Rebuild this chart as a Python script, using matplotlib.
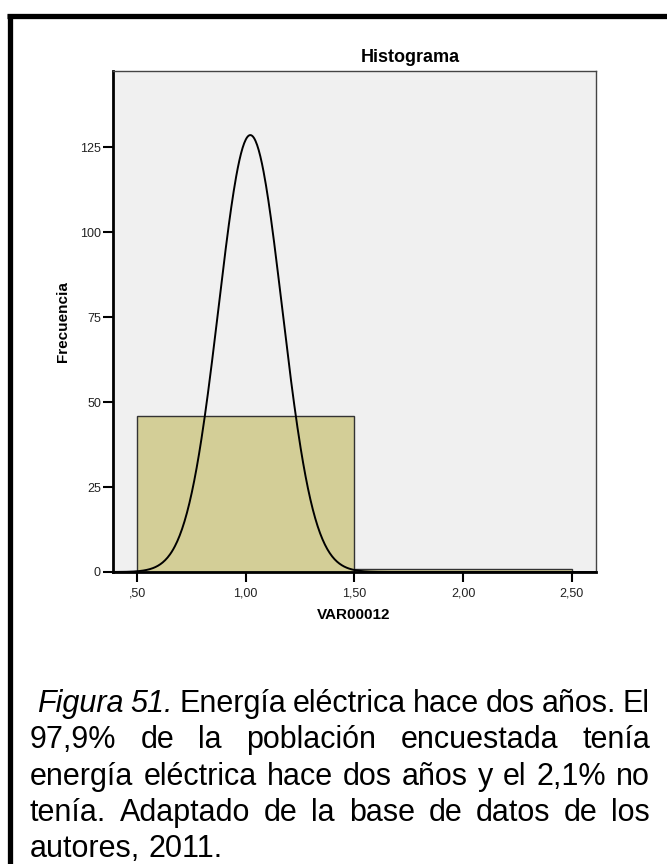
import numpy as np
import matplotlib
matplotlib.use("Agg")
import matplotlib.pyplot as plt
from matplotlib.lines import Line2D

# Histogram data for VAR00012 (1 = tenía energía, 2 = no tenía)
bin_edges = [0.5, 1.5, 2.5]
counts = [46, 1]
bin_values = [1, 2]

x_ticks = [0.5, 1.0, 1.5, 2.0, 2.5]
x_labels = [",50", "1,00", "1,50", "2,00", "2,50"]
y_ticks = [0, 25, 50, 75, 100, 125]
y_labels = ["0", "25", "50", "75", "100", "125"]

caption_lines = [
    [("Figura", "italic"), ("51.", "italic"), ("Energía", "normal"), ("eléctrica", "normal"),
     ("hace", "normal"), ("dos", "normal"), ("años.", "normal"), ("El", "normal")],
    [(w, "normal") for w in "97,9% de la población encuestada tenía".split()],
    [(w, "normal") for w in "energía eléctrica hace dos años y el 2,1% no".split()],
    [(w, "normal") for w in "tenía. Adaptado de la base de datos de los".split()],
    [(w, "normal") for w in "autores, 2011.".split()],
]

W, H = 667, 864
FONT = "Liberation Sans"
plt.rcParams["font.family"] = [FONT, "DejaVu Sans"]

fig = plt.figure(figsize=(W / 100, H / 100), dpi=100)
fig.patch.set_facecolor("white")

# overlay in pixel coordinates for frame and caption
ov = fig.add_axes([0, 0, 1, 1])
ov.set_xlim(0, W)
ov.set_ylim(H, 0)
ov.axis("off")
ov.add_line(Line2D([7, W], [15.5, 15.5], color="black", lw=3.8, solid_capstyle="butt"))
ov.add_line(Line2D([9.5, 9.5], [13.5, H], color="black", lw=3.8, solid_capstyle="butt"))

# histogram axes
left, right, top, bottom = 112.7, 596, 71, 572
ax = fig.add_axes([left / W, 1 - bottom / H, (right - left) / W, (bottom - top) / H])
ax.set_facecolor("#F0F0F0")

widths = np.diff(bin_edges)
ax.bar(bin_edges[:-1], counts, width=widths, align="edge",
       color="#D3CE97", edgecolor="#333333", linewidth=1.0, zorder=2)

# fitted normal curve
vals = np.repeat(bin_values, counts)
n = len(vals)
mu = vals.mean()
sd = vals.std(ddof=1)
xs = np.linspace(0.388, 2.612, 600)
ys = n * widths[0] * np.exp(-0.5 * ((xs - mu) / sd) ** 2) / (sd * np.sqrt(2 * np.pi))
ax.plot(xs, ys, color="black", lw=1.4, zorder=3)

ax.set_xlim(0.388, 2.612)
ax.set_ylim(0, 147.4)
ax.set_xticks(x_ticks)
ax.set_xticklabels(x_labels)
ax.set_yticks(y_ticks)
ax.set_yticklabels(y_labels)
ax.tick_params(axis="both", direction="out", length=7.5, width=1.5, color="black",
               labelsize=9, labelcolor="#222222")
ax.tick_params(axis="y", pad=1)
ax.tick_params(axis="x", pad=3.5)
for s in ["left", "bottom"]:
    ax.spines[s].set_linewidth(2.0)
    ax.spines[s].set_color("black")
for s in ["top", "right"]:
    ax.spines[s].set_linewidth(1.0)
    ax.spines[s].set_color("#444444")

ov.text(410, 57, "Histograma", ha="center", va="center", fontsize=13, fontweight="bold")
ov.text(354, 615, "VAR00012", ha="center", va="center", fontsize=11, fontweight="bold")
ov.text(63, 321.5, "Frecuencia", ha="center", va="center", rotation=90,
        fontsize=11, fontweight="bold")

# justified caption
renderer = fig.canvas.get_renderer()
cap_size = 22
x0, x1 = 30, 650
baselines = [712, 748, 785, 821, 857]


def word_width(word, style):
    t = ov.text(0, 0, word, fontsize=cap_size, style=style)
    bb = t.get_window_extent(renderer)
    t.remove()
    return bb.width


space_w = word_width("a b", "normal") - word_width("ab", "normal")

for i, (words, yb) in enumerate(zip(caption_lines, baselines)):
    ws = [word_width(w, st) for w, st in words]
    start = x0 + (7 if i == 0 else 0)
    last = i == len(caption_lines) - 1
    if last or len(words) == 1:
        gap = space_w
    else:
        gap = (x1 - start - sum(ws)) / (len(words) - 1)
    x = start
    for (w, st), ww in zip(words, ws):
        ov.text(x, yb, w, fontsize=cap_size, style=st, ha="left", va="baseline")
        x += ww + gap

fig.savefig("out.png", dpi=100)
